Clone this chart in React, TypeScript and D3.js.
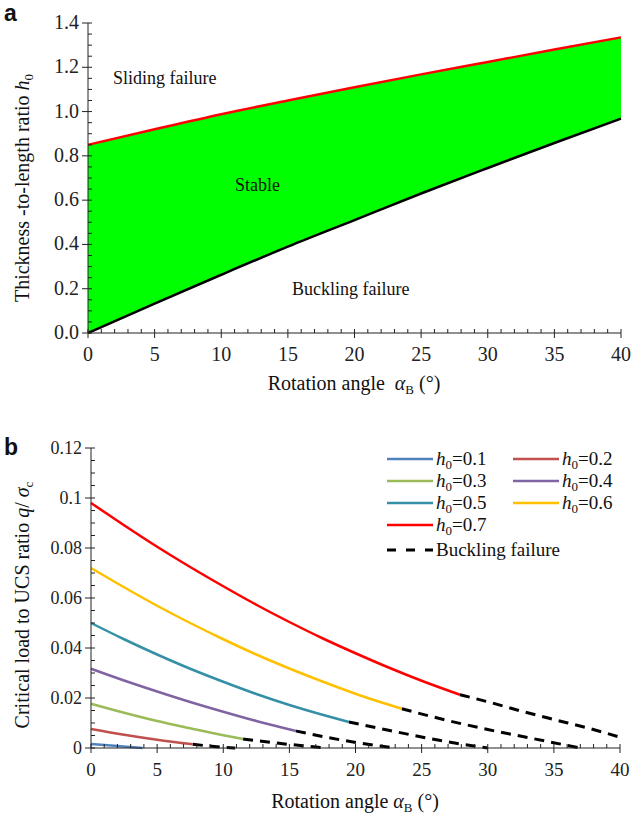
import React from 'react';
import * as d3 from 'd3';

// panel a: stability limits vs rotation angle
const angleA = [0, 5, 10, 15, 20, 25, 30, 35, 40];
const slidingLimit = [0.85, 0.92, 0.988, 1.05, 1.11, 1.168, 1.224, 1.28, 1.335];
const bucklingLimit = [0, 0.133, 0.263, 0.39, 0.51, 0.63, 0.745, 0.858, 0.968];

const xTicksA = [0, 5, 10, 15, 20, 25, 30, 35, 40];
const yTicksA = [0, 0.2, 0.4, 0.6, 0.8, 1.0, 1.2, 1.4];

// panel b: critical load ratio q/sigma_c for each h0
const h0Labels = ['0.1', '0.2', '0.3', '0.4', '0.5', '0.6', '0.7'];
const h0Colors = ['#4F81BD', '#C0504D', '#9BBB59', '#8064A2', '#3590A6', '#FFC000', '#FF0000'];

const stableAngle01 = [0, 2, 3.9];
const stableQ01 = [0.0016, 0.0008, 0];
const stableAngle02 = [0, 2.5, 5, 7.7];
const stableQ02 = [0.0076, 0.0053, 0.0033, 0.0015];
const stableAngle03 = [0, 2.5, 5, 7.5, 10, 11.5];
const stableQ03 = [0.0177, 0.0141, 0.0108, 0.0079, 0.0051, 0.0036];
const stableAngle04 = [0, 2.5, 5, 7.5, 10, 12.5, 15.5];
const stableQ04 = [0.0317, 0.027, 0.0226, 0.0184, 0.0145, 0.0108, 0.0068];
const stableAngle05 = [0, 2.5, 5, 7.5, 10, 12.5, 15, 17.5, 19.5];
const stableQ05 = [0.05, 0.0435, 0.0374, 0.0317, 0.0265, 0.0216, 0.0172, 0.0133, 0.0104];
const stableAngle06 = [0, 2.5, 5, 7.5, 10, 12.5, 15, 17.5, 20, 23.5];
const stableQ06 = [0.072, 0.0643, 0.0569, 0.05, 0.0435, 0.0374, 0.0318, 0.0266, 0.0217, 0.0157];
const stableAngle07 = [0, 2.5, 5, 7.5, 10, 12.5, 15, 17.5, 20, 22.5, 25, 27.9];
const stableQ07 = [0.098, 0.0891, 0.0805, 0.0724, 0.0647, 0.0573, 0.0504, 0.0439, 0.0379, 0.0322, 0.0269, 0.0213];

// buckling branches (dashed)
const buckleAngle02 = [7.7, 9.3, 10.9];
const buckleQ02 = [0.0015, 0.0006, 0];
const buckleAngle03 = [11.5, 14, 16, 17.8];
const buckleQ03 = [0.0036, 0.002, 0.0009, 0];
const buckleAngle04 = [15.5, 18, 20.5, 23];
const buckleQ04 = [0.0068, 0.0041, 0.0018, 0];
const buckleAngle05 = [19.5, 22.5, 25, 27.5, 30];
const buckleQ05 = [0.0104, 0.0071, 0.0044, 0.002, 0];
const buckleAngle06 = [23.5, 26.5, 30, 33, 37];
const buckleQ06 = [0.0157, 0.0116, 0.0074, 0.0042, 0];
const buckleAngle07 = [27.9, 30, 32.5, 35, 37.5, 40];
const buckleQ07 = [0.0213, 0.0185, 0.0148, 0.0114, 0.0081, 0.0043];

const xTicksB = [0, 5, 10, 15, 20, 25, 30, 35, 40];
const yTicksB = [0, 0.02, 0.04, 0.06, 0.08, 0.1, 0.12];
const yTickLabelsB = ['0', '0.02', '0.04', '0.06', '0.08', '0.1', '0.12'];

const stableAngles = [stableAngle01, stableAngle02, stableAngle03, stableAngle04, stableAngle05, stableAngle06, stableAngle07];
const stableQs = [stableQ01, stableQ02, stableQ03, stableQ04, stableQ05, stableQ06, stableQ07];
const buckleAngles = [buckleAngle02, buckleAngle03, buckleAngle04, buckleAngle05, buckleAngle06, buckleAngle07];
const buckleQs = [buckleQ02, buckleQ03, buckleQ04, buckleQ05, buckleQ06, buckleQ07];

const serif = "'Liberation Serif', 'Times New Roman', serif";
const sans = "'Liberation Sans', Arial, sans-serif";

function Axes({x, y, xTicks, yTicks, yLabels, xMinor, yMinor, xFont, yFont}: any) {
    const [x0, x1] = x.range();
    const [y0, y1] = y.range();
    return (
        <g stroke="#222" strokeWidth={1}>
            <line x1={x0} x2={x1} y1={y0} y2={y0}/>
            <line x1={x0} x2={x0} y1={y0} y2={y1}/>
            {xMinor.map((t: number) => <line key={'xm' + t} x1={x(t)} x2={x(t)} y1={y0} y2={y0 - 4}/>)}
            {yMinor.map((t: number) => <line key={'ym' + t} x1={x0} x2={x0 + 4} y1={y(t)} y2={y(t)}/>)}
            {xTicks.map((t: number) => <line key={'x' + t} x1={x(t)} x2={x(t)} y1={y0 - 4} y2={y0 + 5}/>)}
            {yTicks.map((t: number) => <line key={'y' + t} x1={x0 - 6} x2={x0 + 4} y1={y(t)} y2={y(t)}/>)}
            <g stroke="none" fill="#222" fontFamily={serif}>
                {xTicks.map((t: number) => (
                    <text key={'xl' + t} x={x(t)} y={y0 + 28} fontSize={xFont} textAnchor="middle">{t}</text>
                ))}
                {yTicks.map((t: number, i: number) => (
                    <text key={'yl' + t} x={x0 - 9} y={y(t) + 6} fontSize={yFont} textAnchor="end">{yLabels[i]}</text>
                ))}
            </g>
        </g>
    );
}

export default function App() {
    const xA = d3.scaleLinear().domain([0, 40]).range([88, 621]);
    const yA = d3.scaleLinear().domain([0, 1.4]).range([333, 23]);
    const xB = d3.scaleLinear().domain([0, 40]).range([91, 620]);
    const yB = d3.scaleLinear().domain([0, 0.12]).range([748, 448]);

    const idxA = d3.range(angleA.length);
    const stableArea = d3.area<number>()
        .x(i => xA(angleA[i]))
        .y0(i => yA(bucklingLimit[i]))
        .y1(i => yA(slidingLimit[i]))
        .curve(d3.curveMonotoneX);
    const limitLine = (vals: number[]) => d3.line<number>()
        .x(i => xA(angleA[i]))
        .y(i => yA(vals[i]))
        .curve(d3.curveMonotoneX)(idxA);

    const lineB = (ang: number[], q: number[]) => d3.line<number>()
        .x(i => xB(ang[i]))
        .y(i => yB(q[i]))
        .curve(d3.curveMonotoneX)(d3.range(ang.length));

    const minorA = d3.range(0, 41).filter(t => t % 5 !== 0);
    const minorYA = d3.range(0, 29).map(k => k * 0.05).filter((_, k) => k % 4 !== 0);
    const minorYB = d3.range(0, 25).map(k => k * 0.005).filter((_, k) => k % 4 !== 0);

    const legendX = [387, 513];
    const legendY = [459, 481, 503, 525];

    return (
        <svg width={641} height={816} style={{position: 'absolute', left: 0, top: 0, background: '#fff'}}>
            {/* panel a */}
            <path d={stableArea(idxA) || ''} fill="#00FF00"/>
            <path d={limitLine(slidingLimit) || ''} fill="none" stroke="#FF0000" strokeWidth={2.5}/>
            <path d={limitLine(bucklingLimit) || ''} fill="none" stroke="#000" strokeWidth={2.5}/>
            <Axes x={xA} y={yA} xTicks={xTicksA} yTicks={yTicksA}
                  yLabels={yTicksA.map(d3.format('.1f'))}
                  xMinor={minorA} yMinor={minorYA} xFont={20} yFont={20}/>
            <g fontFamily={serif} fill="#111">
                <text x={113} y={84} fontSize={18}>Sliding failure</text>
                <text x={235} y={191} fontSize={18}>Stable</text>
                <text x={292} y={295} fontSize={18}>Buckling failure</text>
                <text x={354} y={390} fontSize={20} textAnchor="middle">
                    Rotation angle{'\u00a0\u00a0'}<tspan fontStyle="italic">α</tspan>
                    <tspan fontSize={13} dy={4}>B</tspan><tspan dy={-4}> (°)</tspan>
                </text>
                <text transform="translate(29,188) rotate(-90)" fontSize={20} textAnchor="middle">
                    Thickness -to-length ratio <tspan fontStyle="italic">h</tspan>
                    <tspan fontSize={13} dy={4}>0</tspan>
                </text>
            </g>
            <text x={4} y={21} fontFamily={sans} fontWeight="bold" fontSize={23} fill="#111">a</text>

            {/* panel b */}
            <g fill="none" stroke="#000" strokeWidth={3} strokeDasharray="10,7">
                {buckleAngles.map((ang, k) => <path key={'bk' + k} d={lineB(ang, buckleQs[k]) || ''}/>)}
            </g>
            <g fill="none" strokeWidth={2.5}>
                {stableAngles.map((ang, k) => (
                    <path key={'st' + k} d={lineB(ang, stableQs[k]) || ''} stroke={h0Colors[k]}/>
                ))}
            </g>
            <Axes x={xB} y={yB} xTicks={xTicksB} yTicks={yTicksB} yLabels={yTickLabelsB}
                  xMinor={minorA} yMinor={minorYB} xFont={19} yFont={18}/>
            <g fontFamily={serif} fill="#111">
                <text x={355} y={808} fontSize={20} textAnchor="middle">
                    Rotation angle <tspan fontStyle="italic">α</tspan>
                    <tspan fontSize={13} dy={4}>B</tspan><tspan dy={-4}> (°)</tspan>
                </text>
                <text transform="translate(29,605) rotate(-90)" fontSize={20} textAnchor="middle">
                    Critical load to UCS ratio <tspan fontStyle="italic">q</tspan>/ <tspan fontStyle="italic">σ</tspan>
                    <tspan fontSize={13} dy={4}>c</tspan>
                </text>
            </g>
            <text x={4} y={455} fontFamily={sans} fontWeight="bold" fontSize={23} fill="#111">b</text>

            {/* legend */}
            <g fontFamily={serif} fontSize={19} fill="#111">
                {h0Labels.map((lab, k) => {
                    const lx = legendX[k % 2 === 0 || k === 6 ? 0 : 1];
                    const ly = legendY[Math.floor(k / 2)];
                    return (
                        <g key={'lg' + k}>
                            <line x1={lx} x2={lx + 46} y1={ly} y2={ly} stroke={h0Colors[k]} strokeWidth={2.5}/>
                            <text x={lx + 49} y={ly + 6}>
                                <tspan fontStyle="italic">h</tspan>
                                <tspan fontSize={13} dy={4}>0</tspan>
                                <tspan dy={-4}>={lab}</tspan>
                            </text>
                        </g>
                    );
                })}
                <line x1={387} x2={433} y1={550} y2={550} stroke="#000" strokeWidth={3} strokeDasharray="9,10"/>
                <text x={436} y={556}>Buckling failure</text>
            </g>
        </svg>
    );
}
